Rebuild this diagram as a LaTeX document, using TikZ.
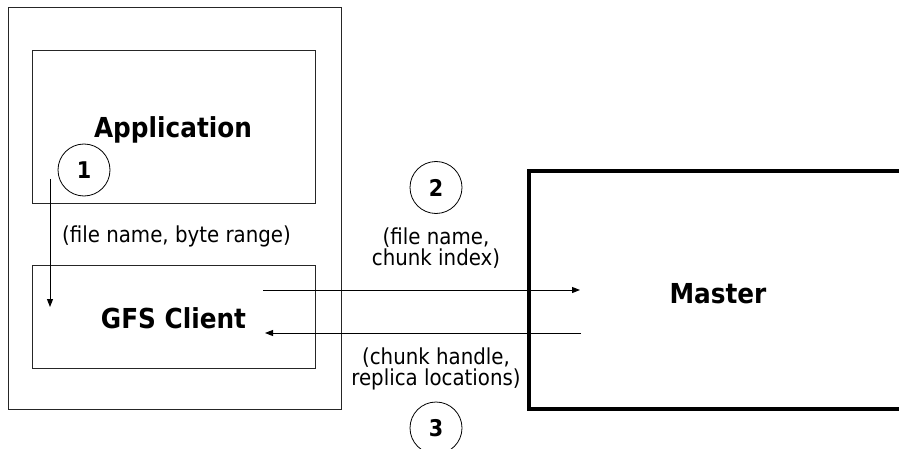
\documentclass[tikz,border=0pt]{standalone}
\usepackage{fontspec}
\setmainfont[FakeStretch=0.9]{DejaVu Sans}
\usetikzlibrary{arrows.meta}
\begin{document}
\begin{tikzpicture}[x=1pt,y=-1pt,
  thinbox/.style={draw=black!85,line width=1pt,inner sep=0pt},
  masterbox/.style={draw=black,line width=4pt,inner sep=0pt},
  title/.style={font=\bfseries\fontsize{27.5}{30}\selectfont,inner sep=0pt,anchor=base},
  lbl/.style={font=\fontsize{22}{21}\selectfont,inner sep=0pt,align=center},
  stepnum/.style={circle,draw=black,line width=0.8pt,minimum size=52pt,inner sep=0pt,
    font=\bfseries\fontsize{23}{23}\selectfont},
  msg/.style={line width=1pt,-{Triangle[length=8pt,width=6pt]}}]
\useasboundingbox (0,0) rectangle (899,449);

% client host with its two layers
\node[thinbox,minimum width=333pt,minimum height=401pt] (host) at (174.5,208.5) {};
\node[thinbox,minimum width=283pt,minimum height=153pt] (app) at (173.5,127.5) {};
\node[thinbox,minimum width=283pt,minimum height=103pt] (client) at (173.5,316.5) {};
\node[title] (apptext) at (173,138) {Application};
\node[title] (clienttext) at (173.5,328) {GFS Client};

% master server
\node[masterbox,minimum width=378pt,minimum height=238pt] (master) at (718,290) {};
\node[title] (mastertext) at (718,303) {Master};

% numbered steps
\node[stepnum] (s1) at (84,170) {1};
\node[stepnum] (s2) at (436,187.5) {2};
\node[stepnum] (s3) at (436,428) {3};

% message labels
\node[lbl,anchor=base] (req1) at (176.5,242.5) {(file name, byte range)};
\node[lbl] (req2) at (436,248) {(file name,\\chunk index)};
\node[lbl] (rep) at (436,369) {(chunk handle,\\replica locations)};

% message arrows
\coordinate (a1s) at (50,179);
\coordinate (a1e) at (50,307);
\coordinate (a2s) at (263,290);
\coordinate (a2e) at (580,290);
\coordinate (a3s) at (581,333);
\coordinate (a3e) at (265,333);
\draw[msg] (a1s) -- (a1e);
\draw[msg] (a2s) -- (a2e);
\draw[msg] (a3s) -- (a3e);
\end{tikzpicture}
\end{document}
